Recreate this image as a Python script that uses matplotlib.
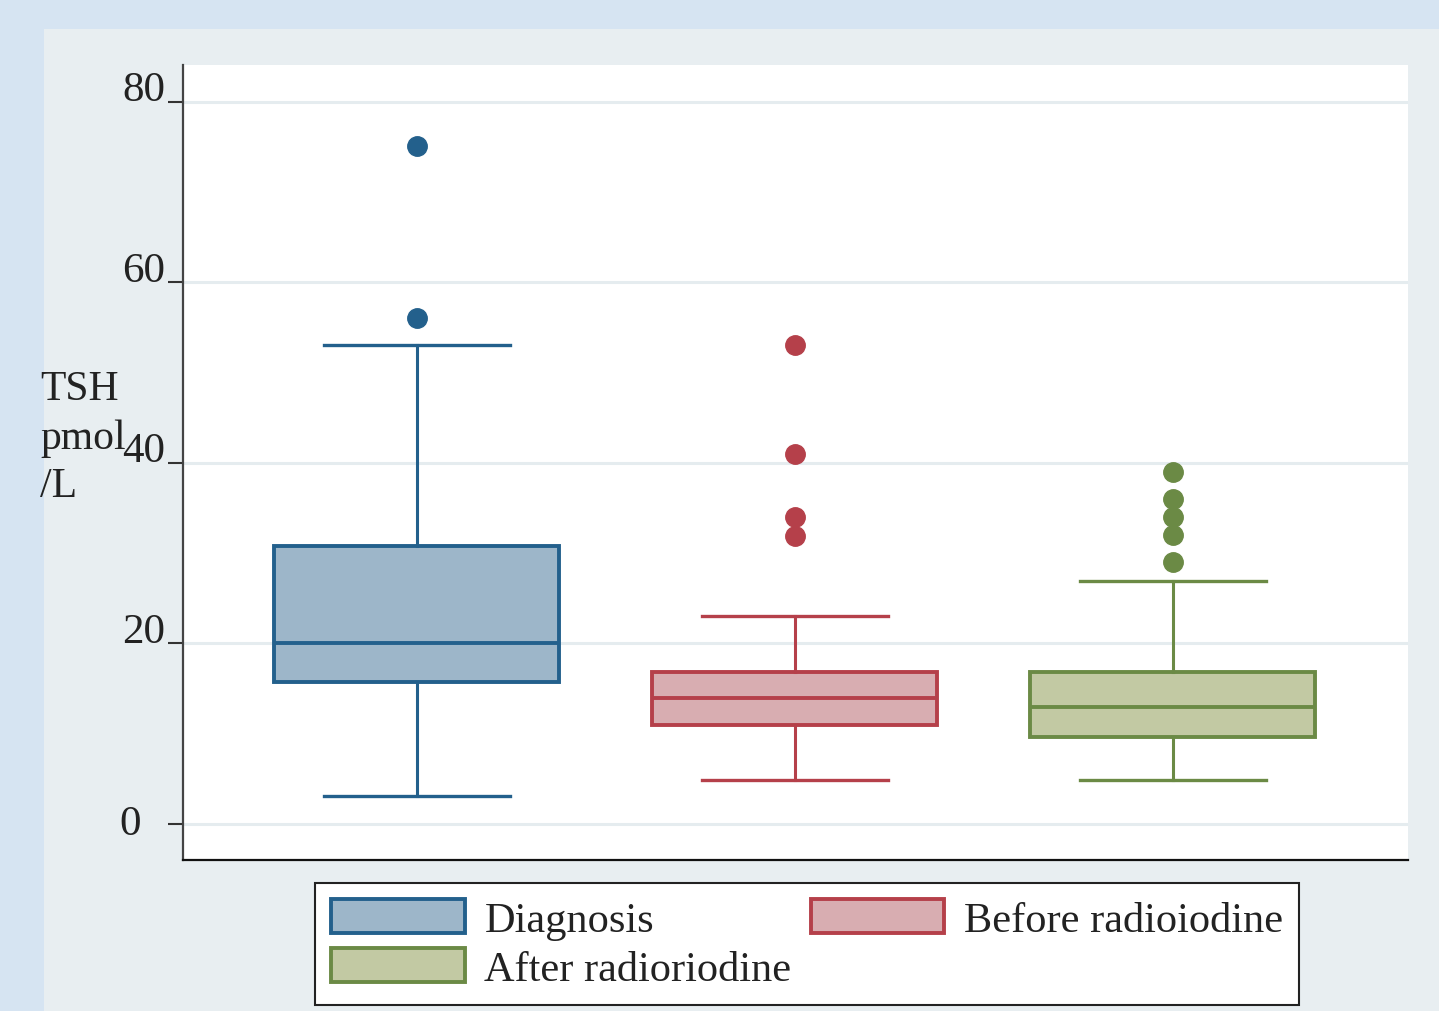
import matplotlib.pyplot as plt
from matplotlib.patches import Rectangle, Patch

plt.rcParams['font.family'] = ['Liberation Serif', 'DejaVu Serif']

# box plot summary values (TSH pmol/L)
groups = ['Diagnosis', 'Before radioiodine', 'After radioriodine']
medians = [20.0, 14.0, 12.9]
q1 = [15.7, 11.0, 9.6]
q3 = [30.8, 16.8, 16.8]
whisk_lo = [3.1, 4.9, 4.9]
whisk_hi = [53.1, 23.0, 26.9]
outliers = [[75.1, 56.1], [53.1, 41.0, 34.0, 31.9], [39.0, 36.0, 34.0, 32.0, 29.0]]
yticks = [0, 20, 40, 60, 80]

edge_cols = ['#23608c', '#b5404a', '#6b8a45']
fill_cols = ['#9db6c9', '#d8adb1', '#c2c9a3']

fig = plt.figure(figsize=(14.39, 10.12), dpi=100, facecolor='#d6e4f2')
fig.patches.append(Rectangle((44 / 1439, 0), 1 - 44 / 1439, 1 - 30 / 1012,
                             transform=fig.transFigure, facecolor='#e8eef1',
                             edgecolor='none', zorder=-10))

ax = fig.add_axes([183 / 1439, 1 - 861 / 1012, 1225 / 1439, 795 / 1012])
ax.set_facecolor('white')

for i in range(3):
    st = {'med': medians[i], 'q1': q1[i], 'q3': q3[i],
          'whislo': whisk_lo[i], 'whishi': whisk_hi[i], 'fliers': outliers[i]}
    c = edge_cols[i]
    ax.bxp([st], positions=[i + 1], widths=0.754, capwidths=[0.49],
           patch_artist=True, showfliers=True,
           boxprops=dict(facecolor=fill_cols[i], edgecolor=c, linewidth=2.8),
           medianprops=dict(color=c, linewidth=2.8),
           whiskerprops=dict(color=c, linewidth=2.2),
           capprops=dict(color=c, linewidth=2.4),
           flierprops=dict(marker='o', markerfacecolor=c, markeredgecolor=c,
                           markersize=14))

ax.set_xlim(0.381, 3.622)
ax.set_ylim(-4, 84.1)
ax.set_xticks([])
ax.set_yticks(yticks)
ax.set_yticklabels([])
ax.tick_params(axis='y', length=11, width=1.5, color='#333333', direction='out')
for y in yticks:
    ax.axhline(y, color='#e5ecef', linewidth=2.2, zorder=0)

for s in ['top', 'right']:
    ax.spines[s].set_visible(False)
ax.spines['left'].set_color('#444444')
ax.spines['left'].set_linewidth(1.6)
ax.spines['bottom'].set_color('#111111')
ax.spines['bottom'].set_linewidth(1.6)

trans = ax.get_yaxis_transform()
for y in yticks:
    if y == 0:
        ax.text(-0.0346, -1.1, '0', transform=trans, ha='right', va='baseline',
                fontsize=31, color='#222222')
    else:
        ax.text(-0.0147, y + 0.2, str(y), transform=trans, ha='right',
                va='baseline', fontsize=31, color='#222222')

fig.text(40 / 1439, 1 - 371 / 1012, 'TSH\npmol\n/L', ha='left', va='top',
         fontsize=30, color='#222222', linespacing=1.33)

handles = [Patch(facecolor=fill_cols[0], edgecolor=edge_cols[0], linewidth=2.8),
           Patch(facecolor=fill_cols[2], edgecolor=edge_cols[2], linewidth=2.8),
           Patch(facecolor=fill_cols[1], edgecolor=edge_cols[1], linewidth=2.8)]
labels = [groups[0], groups[2], groups[1]]
leg = fig.legend(handles, labels, ncol=2, loc='upper left',
                 bbox_to_anchor=(315 / 1439, 1 - 884 / 1012), borderaxespad=0,
                 fontsize=30.5, frameon=True, fancybox=False, framealpha=1,
                 edgecolor='#222222', handlelength=3.15, handleheight=0.85,
                 handletextpad=0.47, columnspacing=0.45, labelspacing=0.2,
                 borderpad=0.38)
leg.get_frame().set_linewidth(1.5)
for t in leg.get_texts():
    t.set_color('#222222')

fig.savefig('out.png', dpi=100, facecolor=fig.get_facecolor())
